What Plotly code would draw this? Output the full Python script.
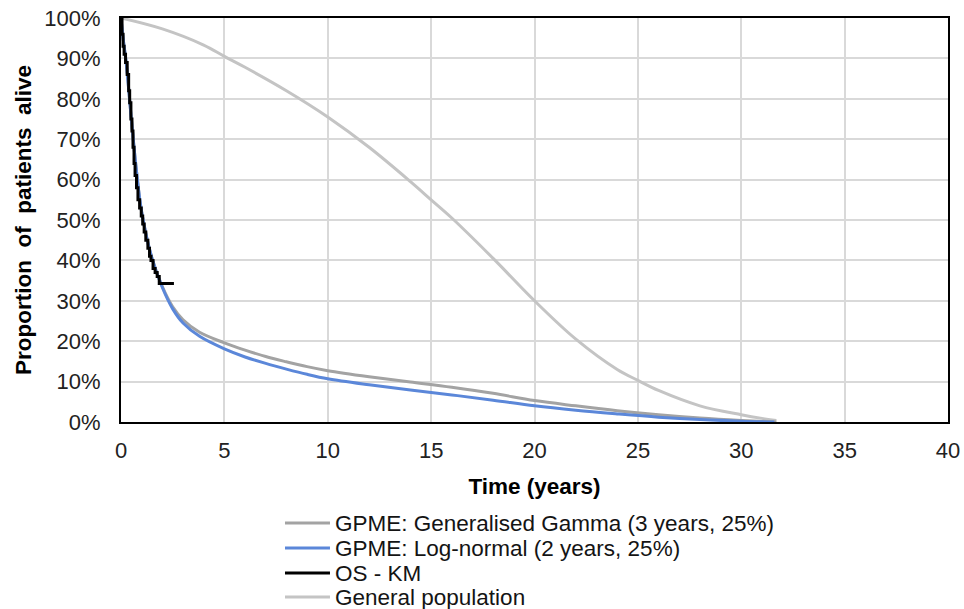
import plotly.graph_objects as go

# Generalised Gamma (GPME)
gg_t = [0, 0.1, 0.25, 0.5, 0.75, 1, 1.5, 2, 2.5, 3, 3.8, 5, 6, 7, 8, 9, 10, 12, 14, 16, 18, 20, 22, 24, 26, 28, 30, 31.7]
gg_s = [100, 95, 89, 75, 62, 52, 40.5, 33.5, 28.5, 25.3, 22.2, 19.6, 17.8, 16.2, 14.9, 13.7, 12.7, 11.2, 9.9, 8.6, 7.1, 5.3, 4.0, 2.8, 1.8, 1.0, 0.4, 0]

# Log-normal (GPME)
ln_t = [0, 0.1, 0.25, 0.5, 0.75, 1, 1.5, 2, 2.5, 3, 3.8, 5, 6, 7, 8, 9, 10, 12, 14, 16, 18, 20, 22, 24, 26, 28, 30, 31.6]
ln_s = [100, 95, 89, 75, 62, 52, 40.5, 33.3, 28, 24.5, 21.2, 18.1, 16.1, 14.5, 13.1, 11.8, 10.7, 9.2, 7.9, 6.7, 5.4, 4.0, 2.9, 2.0, 1.2, 0.6, 0.2, 0]

# OS - KM
km_t = [0, 0.05, 0.1, 0.15, 0.22, 0.3, 0.37, 0.42, 0.48, 0.53, 0.58, 0.63, 0.68, 0.75, 0.82, 0.9, 0.98, 1.05, 1.12, 1.2, 1.3, 1.38, 1.45, 1.55, 1.65, 1.75, 1.85, 2.56]
km_s = [100, 96, 93, 91, 89, 86, 82, 79, 75, 72, 68, 64, 61, 58, 55, 53, 51, 49, 47, 45, 43, 41, 40, 38, 37, 36, 34.3, 34.3]

# General population
gp_t = [0, 2, 4, 5, 6, 8, 10, 12, 14, 15, 16, 18, 20, 22, 24, 25, 26, 28, 30, 31, 31.7]
gp_s = [100, 97.3, 93.3, 90.5, 87.8, 82, 75.5, 68, 59.5, 55, 50.5, 40.5, 30, 20.5, 13, 10.3, 7.8, 4.0, 1.8, 0.9, 0.4]

x_ticks = [0, 5, 10, 15, 20, 25, 30, 35, 40]
y_ticks = [0, 10, 20, 30, 40, 50, 60, 70, 80, 90, 100]
y_labels = [f"{v}%" for v in y_ticks]

legend_names = ["GPME: Generalised Gamma (3 years, 25%)",
                "GPME: Log-normal (2 years, 25%)",
                "OS - KM",
                "General population"]
legend_colors = ["#a3a3a3", "#5b87d9", "#000000", "#c4c4c4"]

FONT = "Liberation Sans, Arial, sans-serif"

fig = go.Figure()
fig.add_trace(go.Scatter(x=gp_t, y=gp_s, mode="lines", name=legend_names[3],
                         line=dict(color=legend_colors[3], width=3, shape="spline")))
fig.add_trace(go.Scatter(x=gg_t, y=gg_s, mode="lines", name=legend_names[0],
                         line=dict(color=legend_colors[0], width=3, shape="spline")))
fig.add_trace(go.Scatter(x=ln_t, y=ln_s, mode="lines", name=legend_names[1],
                         line=dict(color=legend_colors[1], width=3, shape="spline")))
fig.add_trace(go.Scatter(x=km_t, y=km_s, mode="lines", name=legend_names[2],
                         line=dict(color=legend_colors[2], width=3, shape="hv")))

# Legend drawn below the plot (Excel-style tight spacing)
leg_y = [-0.25, -0.3119, -0.3738, -0.4332]
for name, col, yy in zip(legend_names, legend_colors, leg_y):
    fig.add_shape(type="line", xref="paper", yref="paper", x0=0.1983, x1=0.2527, y0=yy, y1=yy,
                  line=dict(color=col, width=3))
    fig.add_annotation(xref="paper", yref="paper", x=0.2563, y=yy, text=name, showarrow=False,
                       xanchor="left", yanchor="middle",
                       font=dict(family=FONT, size=22.5, color="#141414"))

fig.update_layout(
    width=964, height=609,
    margin=dict(l=121, r=16, t=18, b=187, autoexpand=False),
    paper_bgcolor="white", plot_bgcolor="white",
    font=dict(family=FONT, size=22, color="#222222"),
    showlegend=False,
)
fig.update_xaxes(range=[0, 40], tickmode="array", tickvals=x_ticks, showgrid=True,
                 gridcolor="#d9d9d9", gridwidth=2, automargin=False, ticklabeloverflow="allow",
                 showline=True, linecolor="#000000", linewidth=2, mirror=True, ticks="", zeroline=False,
                 tickfont=dict(family=FONT, size=22, color="#222222"), ticklabelstandoff=8,
                 title=dict(text="<b>Time (years)</b>", font=dict(family=FONT, size=22.5, color="#000000"), standoff=16))
fig.update_yaxes(range=[0, 100], tickmode="array", tickvals=y_ticks, ticktext=y_labels, showgrid=True,
                 gridcolor="#d9d9d9", gridwidth=2, automargin=False, ticklabeloverflow="allow",
                 showline=True, linecolor="#000000", linewidth=2, mirror=True, ticks="", zeroline=False,
                 tickfont=dict(family=FONT, size=22, color="#222222"), ticklabelstandoff=14,
                 title=dict(text="<b>Proportion  of  patients  alive</b>", font=dict(family=FONT, size=22.5, color="#000000"), standoff=6))

fig.write_html("out.html", config={"displayModeBar": False},
               post_script="document.body.style.margin='0';document.body.style.overflow='hidden';")
